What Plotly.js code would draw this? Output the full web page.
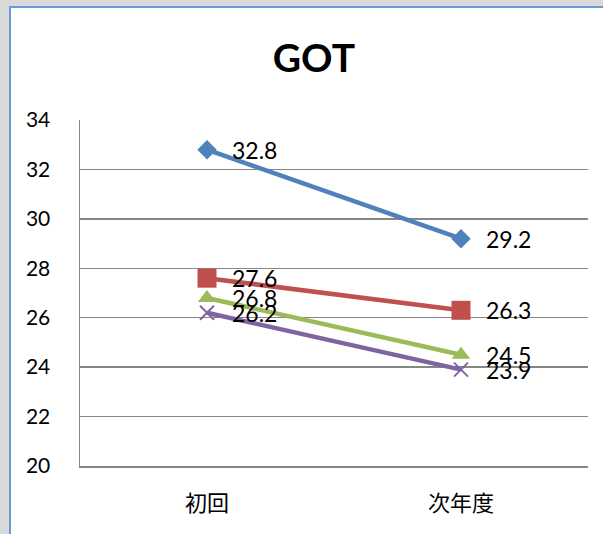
<!DOCTYPE html>
<html><head><meta charset="utf-8">
<script src="https://cdn.plot.ly/plotly-3.0.1.min.js"></script>
<style>
html,body{margin:0;padding:0;background:#d9d9d9;width:603px;height:534px;overflow:hidden;}
#wrap{position:absolute;left:9px;top:6px;width:594px;height:528px;border-left:2px solid #6b98d6;border-top:2px solid #6b98d6;background:#fff;}
#chart{width:594px;height:528px;}
</style></head><body>
<div id="wrap"><div id="chart"></div></div>
<script>
const categories = ['初回', '次年度'];
const seriesBlue = [32.8, 29.2];
const seriesRed = [27.6, 26.3];
const seriesGreen = [26.8, 24.5];
const seriesPurple = [26.2, 23.9];
const yTicks = [20, 22, 24, 26, 28, 30, 32, 34];
const chartTitle = 'GOT';

const series = [
  {y: seriesBlue, color: '#4f81bd', symbol: 'diamond', size: 15},
  {y: seriesRed, color: '#c0504d', symbol: 'square', size: 19},
  {y: seriesGreen, color: '#9bbb59', symbol: 'triangle-up', size: 16},
  {y: seriesPurple, color: '#8064a2', symbol: 'x-thin', size: 14}
];

const traces = series.map(s => ({
  type: 'scatter', mode: 'lines+markers', x: categories, y: s.y,
  line: {color: s.color, width: 4.5},
  marker: {symbol: s.symbol, size: s.size, color: s.color,
           line: {color: s.color, width: s.symbol === 'x-thin' ? 2 : 0}},
  hoverinfo: 'skip', cliponaxis: false
}));

const annotations = [];
series.forEach(s => {
  s.y.forEach((v, i) => {
    annotations.push({x: categories[i], y: v, xref: 'x', yref: 'y', text: v.toFixed(1),
      showarrow: false, xanchor: 'left', yanchor: 'middle', xshift: 23,
      font: {family: 'Lato, "Noto Sans", sans-serif', size: 23, color: '#000'}});
  });
});

const layout = {
  width: 594, height: 528,
  margin: {l: 69, r: 17, t: 112, b: 70},
  paper_bgcolor: '#fff', plot_bgcolor: '#fff',
  showlegend: false,
  title: {text: chartTitle, xref: 'container', x: 0.51, xanchor: 'center', yref: 'container', y: 0.905, yanchor: 'middle',
    font: {family: 'Lato, "Noto Sans", sans-serif', size: 39, color: '#000', weight: 'bold'}},
  xaxis: {type: 'category', range: [-0.5, 1.5], showgrid: false, zeroline: false,
    showline: true, linecolor: '#868686', linewidth: 1.5, ticks: '',
    ticklabelstandoff: 17,
    tickfont: {family: '"Noto Sans CJK JP", sans-serif', size: 22, color: '#000'}, fixedrange: true},
  yaxis: {range: [20, 34], tickvals: yTicks, ticktext: yTicks.map(String), showgrid: true,
    gridcolor: '#868686', gridwidth: 1.5, zeroline: false, showline: true, linecolor: '#868686', linewidth: 1.5,
    ticks: '', ticklabelstandoff: 24,
    tickfont: {family: 'Lato, "Noto Sans", sans-serif', size: 21, color: '#000'}, fixedrange: true},
  annotations: annotations
};

Plotly.newPlot('chart', traces, layout, {displayModeBar: false, staticPlot: true});
</script>
</body></html>
